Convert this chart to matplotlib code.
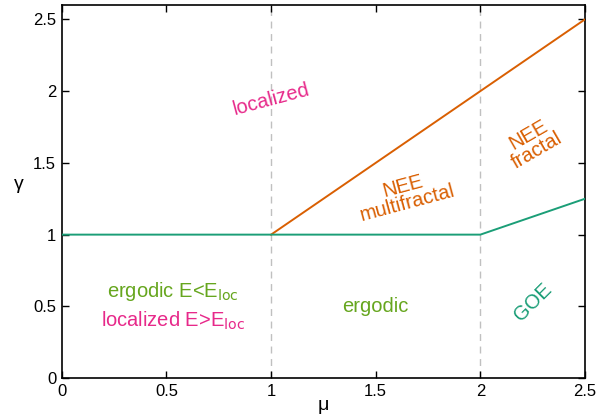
import matplotlib
matplotlib.use("Agg")
import matplotlib.pyplot as plt

plt.rcParams['font.family'] = ['Liberation Sans', 'DejaVu Sans']

# phase boundaries
mu_orange = [1.0, 2.5]
gamma_orange = [1.0, 2.5]
mu_green = [0.0, 2.0, 2.5]
gamma_green = [1.0, 1.0, 1.25]
mu_dashed = [1.0, 2.0]

pink = '#e7298a'
orange = '#d95f02'
teal = '#1b9e77'
lime = '#66a61e'

fig = plt.figure(figsize=(6.0, 4.16), dpi=100)
ax = fig.add_axes([0.103, 0.091, 0.872, 0.897])

for m in mu_dashed:
    ax.axvline(m, color='#c0c0c0', lw=1, ls=(0, (5, 4)), zorder=1)

ax.plot(mu_orange, gamma_orange, color=orange, lw=1.4, zorder=3)
ax.plot(mu_green, gamma_green, color=teal, lw=1.4, zorder=3)

ax.set_xlim(0, 2.5)
ax.set_ylim(0, 2.6)
ax.set_xticks([0, 0.5, 1, 1.5, 2, 2.5])
ax.set_xticklabels(['0', '0.5', '1', '1.5', '2', '2.5'])
ax.set_yticks([0, 0.5, 1, 1.5, 2, 2.5])
ax.set_yticklabels(['0', '0.5', '1', '1.5', '2', '2.5'])
ax.tick_params(direction='in', top=True, right=True, length=5, width=1,
               labelsize=12, pad=4)
for s in ax.spines.values():
    s.set_linewidth(1.2)

ax.set_xlabel('μ', fontsize=14, labelpad=-1)
ax.set_ylabel('γ', fontsize=14, rotation=0, labelpad=10, va='center')
ax.yaxis.set_label_coords(-0.082, 0.52)

kw = dict(ha='center', va='center', fontsize=14.5)
ax.text(1.0, 1.94, 'localized', color=pink, rotation=15, **kw)
ax.text(1.64, 1.28, 'NEE\nmultifractal', color=orange, rotation=15,
        linespacing=0.9, **kw)
ax.text(2.25, 1.64, 'NEE\nfractal', color=orange, rotation=30,
        linespacing=0.9, **kw)
ax.text(0.53, 0.605, r'ergodic E<E$_{\mathrm{loc}}$', color=lime, **kw)
ax.text(0.53, 0.40, r'localized E>E$_{\mathrm{loc}}$', color=pink, **kw)
ax.text(1.5, 0.50, 'ergodic', color=lime, **kw)
ax.text(2.25, 0.53, 'GOE', color=teal, rotation=45, **kw)

fig.savefig('out.png', dpi=100)
